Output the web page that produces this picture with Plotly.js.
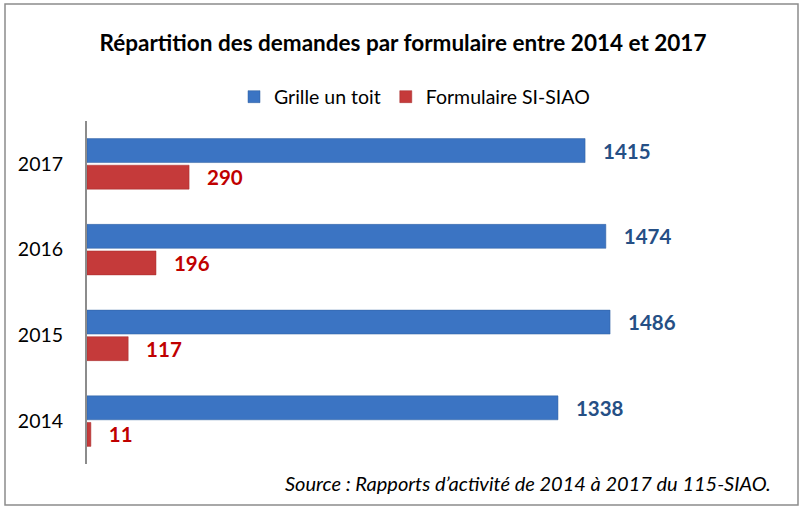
<!DOCTYPE html>
<html>
<head>
<meta charset="utf-8">
<script src="https://cdn.plot.ly/plotly-3.0.1.min.js"></script>
<style>html,body{margin:0;padding:0;background:#fff;}#chart{width:806px;height:506px;}</style>
</head>
<body>
<div id="chart"></div>
<script>
const years = ["2014", "2015", "2016", "2017"];
const grilleUnToit = [1338, 1486, 1474, 1415];
const formulaireSISIAO = [11, 117, 196, 290];
const seriesNames = ["Grille un toit", "Formulaire SI-SIAO"];
const titleText = "Répartition des demandes par formulaire entre 2014 et 2017";
const sourceText = "Source : Rapports d’activité de 2014 à 2017 du 115-SIAO.";

const FONT = "Lato, 'Open Sans', sans-serif";

const traces = [
  {
    type: "bar", orientation: "h", name: seriesNames[1],
    y: years, x: formulaireSISIAO,
    marker: {color: "#C53A3A", line: {color: "#A52D2D", width: 0.5}},
    text: formulaireSISIAO.map(v => "   " + v), textposition: "outside",
    constraintext: "none", cliponaxis: false,
    textfont: {family: FONT, size: 20.5, color: "#C00000", weight: "bold"},
    hoverinfo: "x"
  },
  {
    type: "bar", orientation: "h", name: seriesNames[0],
    y: years, x: grilleUnToit,
    marker: {color: "#3B74C3", line: {color: "#2F5E9E", width: 0.5}},
    text: grilleUnToit.map(v => "   " + v), textposition: "outside",
    constraintext: "none", cliponaxis: false,
    textfont: {family: FONT, size: 20.5, color: "#254F85", weight: "bold"},
    hoverinfo: "x"
  }
];

const layout = {
  width: 806, height: 506,
  margin: {l: 87, r: 15, t: 121, b: 42},
  paper_bgcolor: "#fff", plot_bgcolor: "#fff",
  font: {family: FONT, color: "#000"},
  barmode: "group", bargap: 0.38, bargroupgap: 0.1,
  title: {text: "<b>" + titleText + "</b>", x: 0.5, xanchor: "center", y: 0.915, yanchor: "middle",
          font: {family: FONT, size: 22.5, color: "#000"}},
  legend: {orientation: "h", x: (234 - 87) / 704, xanchor: "left", y: 1.07, yanchor: "middle",
           traceorder: "reversed", font: {family: FONT, size: 19.5, color: "#000"}, itemwidth: 30},
  xaxis: {range: [0, 2000], showgrid: false, zeroline: false, showticklabels: false, showline: false, fixedrange: true},
  yaxis: {type: "category", categoryorder: "array", categoryarray: years, autorange: false, range: [-0.5, 3.5],
          showline: true, linecolor: "#8C8C8C", linewidth: 2, showgrid: false, zeroline: false,
          ticks: "", ticklabelstandoff: 18, tickfont: {family: FONT, size: 19.5, color: "#000"}},
  annotations: [
    {xref: "paper", yref: "paper", x: 0.975, y: -0.055, xanchor: "right", yanchor: "middle", showarrow: false,
     text: "<i>" + sourceText + "</i>", font: {family: FONT, size: 20, color: "#000"}}
  ],
  shapes: [
    {type: "rect", xref: "paper", yref: "paper",
     x0: -82/704, x1: 1 + 7/704, y0: -41/343, y1: 1 + 117/343,
     line: {color: "#8C8C8C", width: 1.5}, fillcolor: "rgba(0,0,0,0)", layer: "below"}
  ]
};

Plotly.newPlot("chart", traces, layout, {displayModeBar: false, staticPlot: true});
</script>
</body>
</html>
